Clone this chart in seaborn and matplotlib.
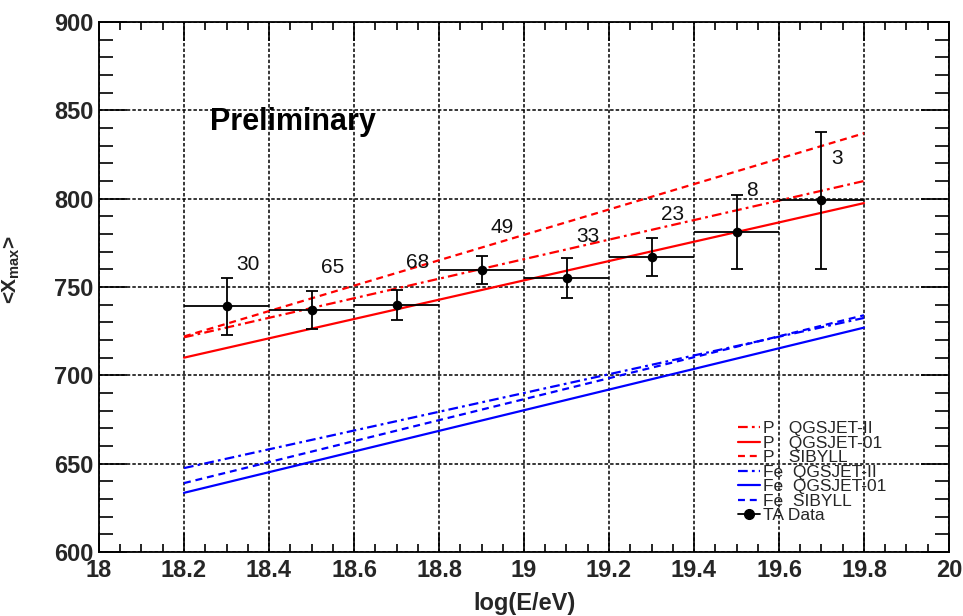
import matplotlib
matplotlib.use("Agg")
import matplotlib.pyplot as plt
import seaborn as sns
from matplotlib.lines import Line2D
from matplotlib.ticker import FixedLocator, FixedFormatter, MultipleLocator

# ---- TA hybrid <Xmax> measurements ----
log_e = [18.3, 18.5, 18.7, 18.9, 19.1, 19.3, 19.5, 19.7]
log_e_halfwidth = [0.1, 0.1, 0.1, 0.1, 0.1, 0.1, 0.1, 0.1]
xmax_mean = [739, 737, 740, 759.5, 755, 767, 781, 799]
xmax_err = [16, 11, 8.5, 8, 11.5, 11, 21, 39]
n_events = [30, 65, 68, 49, 33, 23, 8, 3]

# ---- model predictions (straight-line fits, end points) ----
model_log_e = [18.2, 19.8]
p_qgsjet2 = [721.5, 810]
p_qgsjet01 = [710, 797.5]
p_sibyll = [722, 837]
fe_qgsjet2 = [647.5, 732.5]
fe_qgsjet01 = [633.5, 727]
fe_sibyll = [639, 734]

# ---- axes ----
x_ticks = [18, 18.2, 18.4, 18.6, 18.8, 19, 19.2, 19.4, 19.6, 19.8, 20]
x_tick_labels = ["18", "18.2", "18.4", "18.6", "18.8", "19", "19.2", "19.4",
                 "19.6", "19.8", "20"]
y_ticks = [600, 650, 700, 750, 800, 850, 900]
y_tick_labels = ["600", "650", "700", "750", "800", "850", "900"]

# vertical placement of the event-count annotations
count_label_y = [762.5, 761, 764, 783.5, 778.5, 791, 804.5, 822.5]

sns.set_theme(style="white")
plt.rcParams["font.family"] = ["Liberation Sans", "DejaVu Sans"]
plt.rcParams["lines.scale_dashes"] = False
plt.rcParams["mathtext.fontset"] = "custom"
plt.rcParams["mathtext.rm"] = "Liberation Sans"
plt.rcParams["mathtext.bf"] = "Liberation Sans:bold"

fig = plt.figure(figsize=(9.63, 6.16), dpi=100)
fig.patch.set_facecolor("white")
ax = fig.add_axes([99 / 963, 1 - 552 / 616, 850 / 963, 530 / 616])
ax.set_facecolor("white")

DASHDOT = (0, (7, 3, 2, 3))
DASHED = (0, (5, 3.5))
SOLID = "-"

models = [
    ("P   QGSJET-II", p_qgsjet2, "#ff0000", DASHDOT),
    ("P   QGSJET-01", p_qgsjet01, "#ff0000", SOLID),
    ("P   SIBYLL", p_sibyll, "#ff0000", DASHED),
    ("Fe  QGSJET-II", fe_qgsjet2, "#0000ff", DASHDOT),
    ("Fe  QGSJET-01", fe_qgsjet01, "#0000ff", SOLID),
    ("Fe  SIBYLL", fe_sibyll, "#0000ff", DASHED),
]

handles = []
for label, vals, color, ls in models:
    sns.lineplot(x=model_log_e, y=vals, color=color, linestyle=ls,
                 linewidth=1.6, ax=ax, legend=False, zorder=3)
    line = ax.lines[-1]
    line.set_label(label)
    handles.append(Line2D([], [], color=color, linestyle=ls, linewidth=1.6,
                          label=label))

# data: horizontal bin widths (no caps) and vertical errors (capped)
ax.errorbar(log_e, xmax_mean, xerr=log_e_halfwidth, fmt="none",
            ecolor="black", elinewidth=1.3, capsize=0, zorder=4)
ax.errorbar(log_e, xmax_mean, yerr=xmax_err, fmt="none",
            ecolor="black", elinewidth=1.3, capsize=4, capthick=1.3, zorder=4)
sns.scatterplot(x=log_e, y=xmax_mean, color="black", s=48, marker="o",
                edgecolor="black", linewidth=0, ax=ax, zorder=5, legend=False)
handles.append(Line2D([], [], color="black", marker="o", markersize=7,
                      linewidth=1.3, label="TA Data"))

# event counts per bin
for xv, n, yv in zip(log_e, n_events, count_label_y):
    ax.text(xv + 0.022, yv, str(n), ha="left", va="center", fontsize=15,
            color="#111111", zorder=6)

ax.text(18.26, 843.5, "Preliminary", ha="left", va="center", fontsize=22,
        fontweight="bold", color="black")

ax.set_xlim(18, 20)
ax.set_ylim(600, 900)
ax.xaxis.set_major_locator(FixedLocator(x_ticks))
ax.xaxis.set_major_formatter(FixedFormatter(x_tick_labels))
ax.xaxis.set_minor_locator(MultipleLocator(0.05))
ax.yaxis.set_major_locator(FixedLocator(y_ticks))
ax.yaxis.set_major_formatter(FixedFormatter(y_tick_labels))
ax.yaxis.set_minor_locator(MultipleLocator(10))

ax.grid(True, which="major", color="black", linestyle=(0, (2.5, 1.5)),
        linewidth=1.1, zorder=1)
ax.set_axisbelow(True)

ax.tick_params(axis="both", which="both", direction="in", top=True,
               right=True, bottom=True, left=True, color="black", width=1.2)
ax.tick_params(axis="x", which="major", length=13.5, pad=5, labelsize=17)
ax.tick_params(axis="x", which="minor", length=6)
ax.tick_params(axis="y", which="major", length=20, pad=4, labelsize=17)
ax.tick_params(axis="y", which="minor", length=10)
for lab in ax.get_xticklabels() + ax.get_yticklabels():
    lab.set_fontweight("bold")

for sp in ax.spines.values():
    sp.set_color("black")
    sp.set_linewidth(1.3)
    sp.set_visible(True)

ax.set_xlabel("log(E/eV)", fontsize=17, fontweight="bold", labelpad=7)
ax.set_ylabel(r"<X$_{\mathbf{max}}$>", fontsize=15, fontweight="bold")
ax.yaxis.set_label_coords(-0.091, 0.532)

ax.legend(handles=handles, loc="upper left",
          bbox_to_anchor=((738 - 99) / 850, (552 - 421) / 530),
          frameon=False, fontsize=12.5, handlelength=1.25, handletextpad=0.2,
          labelspacing=-0.035, borderpad=0, borderaxespad=0)

fig.savefig("out.png", dpi=100, facecolor="white")
